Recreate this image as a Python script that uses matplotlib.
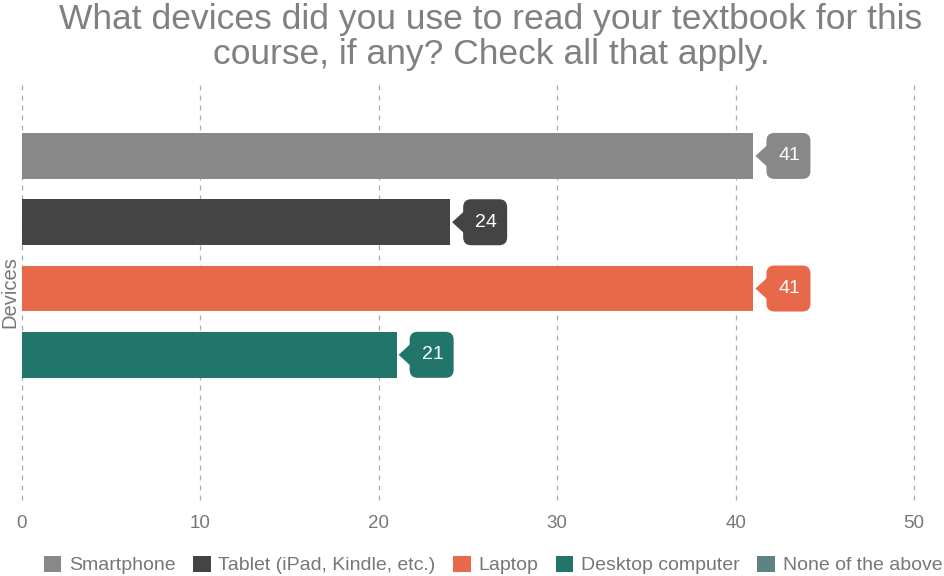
import matplotlib
matplotlib.use("Agg")
import matplotlib.pyplot as plt
from matplotlib.patches import FancyBboxPatch, Polygon, Patch
from matplotlib.transforms import IdentityTransform

plt.rcParams['font.family'] = ['Liberation Sans', 'DejaVu Sans']

title = "What devices did you use to read your textbook for this\ncourse, if any? Check all that apply."
category = "Devices"
series = ["Smartphone", "Tablet (iPad, Kindle, etc.)", "Laptop", "Desktop computer", "None of the above"]
values = [41, 24, 41, 21, 0]
colors = ["#888888", "#444444", "#E8694A", "#21756A", "#5E8285"]
xticks = [0, 10, 20, 30, 40, 50]

W, H, DPI = 945, 576, 100
fig = plt.figure(figsize=(W / DPI, H / DPI), dpi=DPI)
ax = fig.add_axes([22 / W, 1 - 500 / H, (914 - 22) / W, (500 - 85) / H])

ypos = list(range(len(series)))
ax.barh(ypos, values, height=0.69, color=colors, zorder=3)
ax.set_xlim(0, 50)
ax.set_ylim(4 + 1.19, -1.07)
ax.set_xticks(xticks)
ax.set_yticks([])
for s in ax.spines.values():
    s.set_visible(False)
ax.grid(axis='x', linestyle=(0, (4, 4)), color='#AAAAAA', linewidth=0.9, zorder=0)
for gl in ax.get_xgridlines():
    gl.set_clip_on(False)
ax.tick_params(axis='x', length=0, labelsize=13.5, labelcolor='#777777', pad=11)
ax.set_ylabel(category, fontsize=14.5, color='#777777', labelpad=2)

fig.canvas.draw()
tr = ax.transData
for i, (v, c) in enumerate(zip(values, colors)):
    if v <= 0:
        continue
    px, py = tr.transform((v, i))
    tip_x = px + 2
    bx0 = px + 13
    bw, bh = 44, 46
    box = FancyBboxPatch((bx0, py - bh / 2), bw, bh,
                         boxstyle="round,pad=0,rounding_size=8",
                         facecolor=c, edgecolor='none',
                         transform=IdentityTransform(), zorder=5)
    fig.add_artist(box)
    tri = Polygon([[tip_x, py], [bx0 + 1, py + 11], [bx0 + 1, py - 11]],
                  closed=True, facecolor=c, edgecolor='none',
                  transform=IdentityTransform(), zorder=5)
    fig.add_artist(tri)
    fig.text((bx0 + bw / 2 + 1) / W, py / H, str(v), color='white',
             fontsize=14, ha='center', va='center', zorder=6)

fig.text(491 / W, 1 - 37 / H, title, ha='center', va='center',
         fontsize=25.5, color='#808080', linespacing=1.1)

handles = [Patch(facecolor=c, edgecolor='none') for c in colors]
fig.legend(handles, series, loc='center', bbox_to_anchor=(493 / W, 1 - 565 / H),
           ncol=5, frameon=False, fontsize=14, labelcolor='#777777',
           handlelength=0.9, handleheight=0.9, handletextpad=0.4, columnspacing=0.9)

fig.savefig("out.png", dpi=DPI)
